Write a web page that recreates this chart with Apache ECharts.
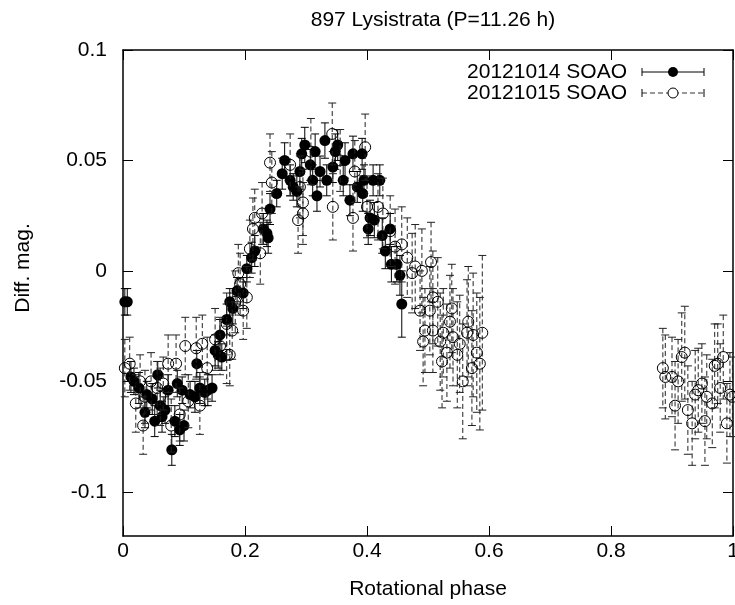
<!DOCTYPE html>
<html>
<head>
<meta charset="utf-8">
<script src="https://cdn.jsdelivr.net/npm/echarts@6/dist/echarts.min.js"></script>
<style>html,body{margin:0;padding:0;background:#fff}#c{width:735px;height:605px}</style>
</head>
<body>
<div id="c"></div>
<script>
// 20121014 SOAO (filled circles)
const phase14 = [0.003,0.007,0.013,0.018,0.026,0.036,0.039,0.048,0.052,0.057,0.061,0.064,0.069,0.074,0.080,0.085,0.089,0.093,0.097,0.100,0.110,0.118,0.121,0.126,0.134,0.139,0.146,0.151,0.156,0.159,0.162,0.170,0.175,0.180,0.187,0.197,0.203,0.211,0.216,0.230,0.236,0.238,0.241,0.252,0.261,0.265,0.274,0.279,0.285,0.290,0.293,0.298,0.307,0.311,0.315,0.318,0.323,0.331,0.334,0.344,0.348,0.352,0.361,0.364,0.372,0.377,0.384,0.392,0.393,0.395,0.402,0.405,0.410,0.412,0.421,0.425,0.430,0.438,0.440,0.449,0.454,0.457];
const mag14 = [-0.014,-0.014,-0.048,-0.050,-0.053,-0.064,-0.056,-0.058,-0.068,-0.047,-0.061,-0.066,-0.063,-0.054,-0.081,-0.068,-0.051,-0.072,-0.054,-0.070,-0.056,-0.057,-0.042,-0.053,-0.055,-0.054,-0.053,-0.036,-0.038,-0.029,-0.039,-0.022,-0.014,-0.017,-0.009,-0.010,0.001,0.006,0.009,0.019,0.017,0.015,0.028,0.035,0.044,0.050,0.041,0.038,0.036,0.045,0.053,0.057,0.048,0.041,0.054,0.034,0.045,0.059,0.041,0.047,0.054,0.057,0.041,0.050,0.032,0.053,0.038,0.053,0.035,0.041,0.019,0.024,0.041,0.023,0.041,0.016,0.009,0.019,0.003,0.003,-0.002,-0.015];
const err14 = [0.006,0.006,0.007,0.006,0.007,0.007,0.006,0.007,0.007,0.006,0.007,0.007,0.006,0.007,0.007,0.007,0.006,0.007,0.006,0.007,0.006,0.007,0.006,0.007,0.006,0.007,0.006,0.007,0.006,0.007,0.006,0.007,0.006,0.007,0.006,0.007,0.006,0.007,0.007,0.007,0.006,0.007,0.007,0.006,0.007,0.008,0.007,0.006,0.007,0.008,0.007,0.008,0.007,0.007,0.008,0.007,0.007,0.008,0.007,0.007,0.008,0.007,0.007,0.008,0.007,0.008,0.007,0.007,0.008,0.007,0.007,0.008,0.007,0.008,0.007,0.008,0.008,0.007,0.008,0.008,0.009,0.015];

// 20121015 SOAO (open circles)
const phase15 = [0.003,0.011,0.021,0.028,0.033,0.036,0.046,0.056,0.061,0.066,0.074,0.079,0.087,0.093,0.102,0.107,0.120,0.126,0.130,0.138,0.151,0.159,0.170,0.170,0.175,0.179,0.184,0.189,0.192,0.197,0.203,0.208,0.213,0.216,0.225,0.228,0.241,0.244,0.274,0.287,0.290,0.295,0.295,0.308,0.343,0.344,0.356,0.377,0.380,0.397,0.400,0.418,0.426,0.438,0.446,0.457,0.466,0.474,0.479,0.487,0.490,0.492,0.495,0.503,0.505,0.508,0.508,0.516,0.520,0.523,0.525,0.531,0.536,0.539,0.541,0.548,0.552,0.557,0.564,0.566,0.572,0.574,0.580,0.585,0.589,0.885,0.889,0.900,0.905,0.910,0.916,0.921,0.926,0.933,0.938,0.943,0.949,0.954,0.957,0.966,0.970,0.975,0.979,0.984,0.990,0.995,0.999];
const mag15 = [-0.044,-0.042,-0.060,-0.050,-0.070,-0.057,-0.050,-0.053,-0.057,-0.051,-0.042,-0.070,-0.042,-0.065,-0.034,-0.059,-0.035,-0.061,-0.033,-0.044,-0.031,-0.034,-0.024,-0.038,-0.038,-0.027,-0.014,-0.001,-0.006,-0.018,-0.012,0.010,0.019,0.024,0.008,0.026,0.049,0.040,0.048,0.023,0.038,0.031,0.026,0.054,0.062,0.029,0.050,0.024,0.045,0.056,0.029,0.029,0.026,0.018,0.011,0.012,0.006,-0.001,0.002,-0.018,0.000,-0.032,-0.027,-0.018,0.004,-0.012,-0.027,-0.014,-0.032,-0.041,-0.028,-0.037,-0.023,-0.017,-0.030,-0.038,-0.033,-0.050,-0.028,-0.023,-0.044,-0.029,-0.037,-0.042,-0.028,-0.044,-0.048,-0.048,-0.061,-0.050,-0.039,-0.037,-0.063,-0.069,-0.056,-0.054,-0.051,-0.068,-0.057,-0.060,-0.043,-0.042,-0.053,-0.039,-0.069,-0.056,-0.057];
const err15 = [0.013,0.012,0.013,0.012,0.013,0.012,0.013,0.012,0.013,0.012,0.013,0.012,0.013,0.012,0.013,0.012,0.014,0.013,0.013,0.014,0.014,0.013,0.014,0.013,0.014,0.013,0.014,0.013,0.014,0.013,0.014,0.013,0.014,0.013,0.014,0.014,0.013,0.014,0.014,0.015,0.014,0.015,0.014,0.015,0.014,0.015,0.014,0.015,0.014,0.015,0.014,0.015,0.016,0.016,0.017,0.017,0.018,0.018,0.019,0.018,0.019,0.020,0.019,0.020,0.018,0.021,0.019,0.020,0.022,0.021,0.020,0.022,0.021,0.020,0.022,0.024,0.022,0.026,0.024,0.025,0.026,0.028,0.027,0.030,0.035,0.018,0.019,0.018,0.020,0.019,0.020,0.021,0.020,0.019,0.020,0.019,0.018,0.020,0.019,0.020,0.019,0.018,0.020,0.019,0.018,0.019,0.018];

const titleText = '897 Lysistrata (P=11.26 h)';
const xName = 'Rotational phase';
const yName = 'Diff. mag.';
const name14 = '20121014 SOAO';
const name15 = '20121015 SOAO';
const xTicks = [0, 0.2, 0.4, 0.6, 0.8, 1];
const yTicks = [-0.1, -0.05, 0, 0.05, 0.1];

const FONT = 'Liberation Sans, Arial, Helvetica, sans-serif';
const FS = 21;

const d14 = phase14.map((p, i) => [p, mag14[i], err14[i]]);
const d15 = phase15.map((p, i) => [p, mag15[i], err15[i]]);

function errRender(color, dash) {
  return function (params, api) {
    const x = api.value(0), y = api.value(1), e = api.value(2);
    const hi = api.coord([x, y + e]);
    const lo = api.coord([x, y - e]);
    const w = 4;
    const st = { stroke: color, lineWidth: 1, lineDash: dash };
    return {
      type: 'group',
      children: [
        { type: 'line', shape: { x1: hi[0], y1: hi[1], x2: lo[0], y2: lo[1] }, style: st },
        { type: 'line', shape: { x1: hi[0] - w, y1: hi[1], x2: hi[0] + w, y2: hi[1] }, style: { stroke: color, lineWidth: 1 } },
        { type: 'line', shape: { x1: lo[0] - w, y1: lo[1], x2: lo[0] + w, y2: lo[1] }, style: { stroke: color, lineWidth: 1 } }
      ]
    };
  };
}

const axisCommon = {
  type: 'value',
  splitLine: { show: false },
  axisLine: { show: true, onZero: false, lineStyle: { color: '#000', width: 1.5 } },
  axisTick: { show: true, inside: true, length: 10, lineStyle: { color: '#000', width: 1 } },
};

const chart = echarts.init(document.getElementById('c'), null, { renderer: 'canvas' });
chart.setOption({
  animation: false,
  backgroundColor: '#fff',
  title: {
    text: titleText, left: 428, top: 5, textAlign: 'center',
    textStyle: { fontFamily: FONT, fontSize: FS, fontWeight: 'normal', color: '#000' }
  },
  grid: { left: 123, right: 2, top: 50, bottom: 69, outerBoundsMode: 'none', containLabel: false },
  xAxis: [
    Object.assign({}, axisCommon, {
      position: 'bottom', min: 0, max: 1, interval: 0.2,
      name: xName, nameLocation: 'middle', nameGap: 43,
      nameTextStyle: { fontFamily: FONT, fontSize: FS, color: '#000' },
      axisLabel: { fontFamily: FONT, fontSize: FS, color: '#000', margin: 5 },
      axisTick: Object.assign({}, axisCommon.axisTick, { customValues: xTicks }),
    }),
    Object.assign({}, axisCommon, {
      position: 'top', min: 0, max: 1, interval: 0.2,
      axisLabel: { show: false },
      axisTick: Object.assign({}, axisCommon.axisTick, { customValues: xTicks }),
    })
  ],
  yAxis: [
    Object.assign({}, axisCommon, {
      position: 'left', min: -0.12, max: 0.1,
      axisLabel: { fontFamily: FONT, fontSize: FS, color: '#000', margin: 16, customValues: yTicks },
      axisTick: Object.assign({}, axisCommon.axisTick, { customValues: yTicks }),
    }),
    Object.assign({}, axisCommon, {
      position: 'right', min: -0.12, max: 0.1,
      axisLabel: { show: false },
      axisTick: Object.assign({}, axisCommon.axisTick, { customValues: yTicks }),
    })
  ],
  graphic: [
    { type: 'text', x: 23, y: 268, rotation: Math.PI / 2, style: { text: yName, align: 'center', verticalAlign: 'middle', font: FS + 'px ' + FONT, fill: '#000' } },
    { type: 'text', x: 627, y: 72, style: { text: name14, align: 'right', verticalAlign: 'middle', font: FS + 'px ' + FONT, fill: '#000' } },
    { type: 'line', shape: { x1: 642, y1: 72, x2: 704, y2: 72 }, style: { stroke: '#000', lineWidth: 1 } },
    { type: 'line', shape: { x1: 642, y1: 68, x2: 642, y2: 76 }, style: { stroke: '#000', lineWidth: 1 } },
    { type: 'line', shape: { x1: 704, y1: 68, x2: 704, y2: 76 }, style: { stroke: '#000', lineWidth: 1 } },
    { type: 'circle', shape: { cx: 673, cy: 72, r: 5 }, style: { fill: '#000' } },
    { type: 'text', x: 627, y: 93, style: { text: name15, align: 'right', verticalAlign: 'middle', font: FS + 'px ' + FONT, fill: '#000' } },
    { type: 'line', shape: { x1: 642, y1: 93, x2: 704, y2: 93 }, style: { stroke: '#333', lineWidth: 1, lineDash: [5, 3] } },
    { type: 'line', shape: { x1: 642, y1: 89, x2: 642, y2: 97 }, style: { stroke: '#000', lineWidth: 1 } },
    { type: 'line', shape: { x1: 704, y1: 89, x2: 704, y2: 97 }, style: { stroke: '#000', lineWidth: 1 } },
    { type: 'circle', shape: { cx: 673, cy: 93, r: 5 }, style: { fill: '#fff', stroke: '#000', lineWidth: 1 } }
  ],
  series: [
    { type: 'custom', name: name14 + ' err', data: d14, renderItem: errRender('#000', null), z: 2, clip: false },
    { type: 'scatter', name: name14, data: d14, symbol: 'circle', symbolSize: 11, itemStyle: { color: '#000', opacity: 1 }, z: 3 },
    { type: 'custom', name: name15 + ' err', data: d15, renderItem: errRender('#222', [5, 3]), z: 4, clip: false },
    { type: 'scatter', name: name15, data: d15, symbol: 'circle', symbolSize: 11, itemStyle: { color: 'rgba(0,0,0,0)', borderColor: '#000', borderWidth: 1, opacity: 1 }, z: 5 }
  ]
});
</script>
</body>
</html>
